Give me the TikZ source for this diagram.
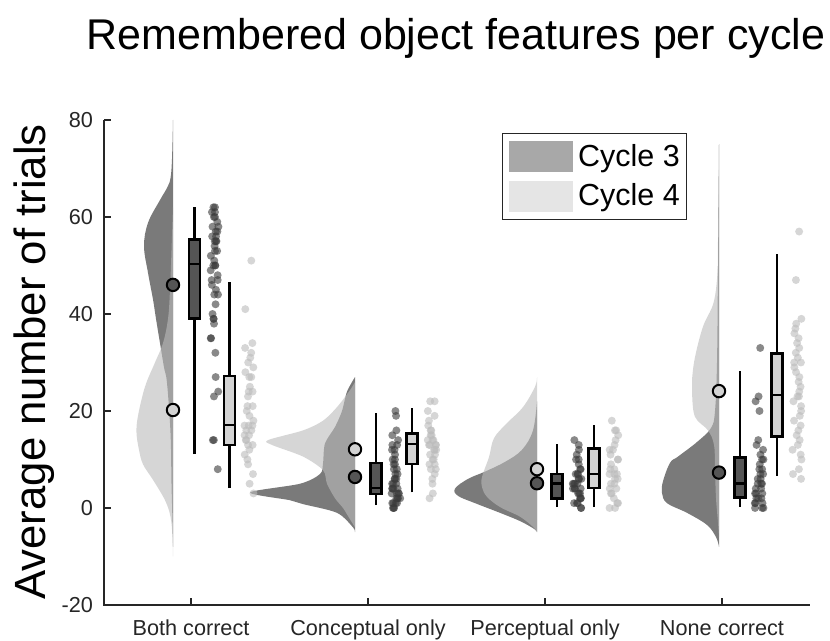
\documentclass[tikz,border=0pt]{standalone}
\usepackage{fontspec}
\setmainfont{Liberation Sans}
\definecolor{axisgray}{HTML}{262626}
\definecolor{vdark}{HTML}{7A7A7A}
\definecolor{vlight}{HTML}{BBBBBB}
\definecolor{bdark}{HTML}{555555}
\definecolor{blight}{HTML}{D3D3D3}
\definecolor{ddark}{HTML}{3A3A3A}
\definecolor{dlight}{HTML}{BBBBBB}
\definecolor{legdark}{HTML}{A8A8A8}
\definecolor{leglight}{HTML}{E5E5E5}

% jittered raw data points: centre x, style, values
\newcommand{\rainrow}[3]{%
  \foreach \v in {#3}{%
    \pgfmathsetmacro{\jx}{#1+4.5*rand}%
    \fill[#2] (\jx,\v) circle[radius=3.4pt];
  }}
% box with whiskers: x, low, q1, median, q3, high, fill
\newcommand{\rainbox}[7]{%
  \draw[boxline] (#1,#2) -- (#1,#3) (#1,#5) -- (#1,#6);
  \filldraw[boxline, fill=#7] (#1-5.5,#3) rectangle (#1+5.5,#5);
  \draw[boxline] (#1-5.5,#4) -- (#1+5.5,#4);}

\begin{document}
\begin{tikzpicture}[x=0.03cm,y=0.03cm,
    axisline/.style={draw=axisgray, line width=1.6pt},
    ticklabel/.style={font=\fontsize{18.5}{20}\selectfont, text=axisgray},
    boxline/.style={draw=black, line width=2.3pt},
    c3violin/.style={fill=vdark},
    c4violin/.style={fill=vlight, fill opacity=0.6},
    c3dot/.style={fill=ddark, fill opacity=0.6},
    c4dot/.style={fill=dlight, fill opacity=0.6},
    meanmark/.style={draw=black, line width=1.7pt}]
\useasboundingbox (0,0) rectangle (830,641);

\node[anchor=base, font=\fontsize{36.7}{40}\selectfont] (title) at (456,591) {Remembered object features per cycle};
\node[rotate=90, anchor=base, font=\fontsize{37.3}{40}\selectfont] (ylabel) at (45,279) {Average number of trials};

\begin{scope}[yshift=3.99cm, y=0.1455cm]
    % axes
    \draw[axisline] (104,80) -- (104,-20) -- (810,-20);
    \foreach \t in {-20,0,...,80}
        {
            \draw[axisline] (104,\t) -- ++(7,0);
            \node[ticklabel, anchor=east] (ytick\t) at (97,\t) {\t};
        }
    \foreach \xc/\lab [count=\i] in {191/Both correct, 368/Conceptual only, 545/Perceptual only, 722/None correct}
        {
            \draw[axisline] (\xc,-20) -- ++(0,1.45);
            \node[ticklabel, anchor=base] (xtick\i) at (\xc,-26.2) {\lab};
        }

    % half violins, cycle 3 then cycle 4
    \fill[c3violin] plot[smooth, tension=0.6] coordinates {(173,80) (172,72) (170.5,68) (167,66) (160,63.5) (148,58.8) (144,54) (148,48.5) (153,43) (156,39) (160,34) (164,29) (167,25.8) (170.5,15.5) (171.5,5) (172.5,-3) (173,-8)} -- cycle;
    \fill[c4violin] plot[smooth, tension=0.6] coordinates {(173,62) (172,56) (170,45) (168,39) (163,34) (155,30) (145,25) (138,19) (136.5,15.5) (139,12) (143,9) (153,5.8) (165,1.6) (170.5,-1.8) (172.5,-6) (173,-10)} -- cycle;

    \fill[c3violin] plot[smooth, tension=0.5] coordinates {(355,27) (347,24) (342,20) (335,16.7) (325,13.3) (323,9.2) (320,7) (300,5) (250,3.2) (290,1.6) (303,0.8) (337,-1) (353,-4) (355,-5)} -- cycle;
    \fill[c4violin] plot[smooth, tension=0.5] coordinates {(355,26) (350,24.3) (337,20.8) (323,18) (303,16) (268,14) (272,13) (303,10.6) (323,7.8) (327,5) (335,2) (343,0) (349,-2) (355,-4)} -- cycle;

    \fill[c3violin] plot[smooth, tension=0.6] coordinates {(537,22) (533,16) (522,12) (505,9.5) (485,7.5) (468,6) (455,4) (458,2.5) (475,1) (500,-1) (520,-2.7) (534,-4.3) (537,-5)} -- cycle;
    \fill[c4violin] plot[smooth, tension=0.6] coordinates {(537,27) (535,25) (523,20.8) (507,17.5) (494,14.4) (489,10.5) (482,6.4) (482,4.3) (487,2.3) (500,0.2) (520,-1.8) (533,-3.9) (537,-5)} -- cycle;

    \fill[c3violin] plot[smooth, tension=0.6] coordinates {(719,75) (718,50) (717,30) (715,20) (711,16.5) (697,13.6) (678,10.6) (670,9.3) (663,5.5) (662,3.1) (667,1) (687,-1) (707,-3.5) (716,-6) (719,-8)} -- cycle;
    \fill[c4violin] plot[smooth, tension=0.6] coordinates {(719,75) (718,55) (717.5,48.5) (713.5,42.3) (703,37.4) (695,31.1) (692,26.4) (692,23.7) (695,18.8) (708,16) (714,13) (715,8) (716,2) (718,-3) (719,-6)} -- cycle;

    % means
    \filldraw[meanmark, fill=bdark] (173,46) circle[radius=5.3pt];
    \filldraw[meanmark, fill=blight] (173,20.2) circle[radius=5.3pt];
    \filldraw[meanmark, fill=blight] (355,12.1) circle[radius=5.3pt];
    \filldraw[meanmark, fill=bdark] (355,6.4) circle[radius=5.3pt];
    \filldraw[meanmark, fill=blight] (537,8) circle[radius=5.3pt];
    \filldraw[meanmark, fill=bdark] (537,5.1) circle[radius=5.3pt];
    \filldraw[meanmark, fill=blight] (719,24.1) circle[radius=5.3pt];
    \filldraw[meanmark, fill=bdark] (719,7.3) circle[radius=5.3pt];

    % boxes
    \rainbox{194.5}{11.1}{39}{50.3}{55.3}{62.1}{bdark}
    \rainbox{229.5}{4.1}{13}{17.1}{27.2}{46.5}{blight}
    \rainbox{376}{0.6}{2.9}{4.1}{9.3}{19.6}{bdark}
    \rainbox{412}{3.2}{9.1}{13.2}{15.3}{20.6}{blight}
    \rainbox{557}{0.2}{2}{5.1}{7}{13.2}{bdark}
    \rainbox{594}{0.2}{4.1}{7}{12.2}{17.1}{blight}
    \rainbox{740}{0.3}{2.1}{5.1}{10.4}{28.2}{bdark}
    \rainbox{777}{6.6}{14.8}{23.3}{31.8}{52.4}{blight}

    % raw data
    \pgfmathsetseed{7}
    \rainrow{214}{c3dot}{62,62,61,61,60,60,59,58,58,57,57,56,56,55,55,55,54,53,53,52,51,50,50,50,49,48,47,47,46,45,44,44,42,40,39,39,38,35,35,32,27,24,23,14,14,8}
    \rainrow{249}{c4dot}{51,41,34,33,32,31,30,29,28,27,27,25,24,24,23,21,21,20,19,18,17,17,17,16,16,15,15,14,14,13,13,12,11,10,9,7,5,3}
    \rainrow{396}{c3dot}{20,19,16,15,14,13,13,12,12,11,10,10,9,9,8,8,7,7,6,6,6,5,5,5,4,4,4,4,3,3,3,3,2,2,2,2,1,1,1,1,0,0,0}
    \rainrow{432}{c4dot}{22,22,20,19,18,17,16,16,15,15,14,14,14,13,13,13,13,12,12,12,11,11,10,10,9,9,8,8,7,6,5,3,2}
    \rainrow{577}{c3dot}{14,13,12,11,10,10,9,8,8,7,7,7,6,6,6,5,5,5,5,4,4,4,4,3,3,3,2,2,2,1,1,1,0,0}
    \rainrow{614}{c4dot}{18,16,16,15,14,13,12,12,11,10,10,9,8,8,7,7,7,6,6,5,5,4,4,3,3,2,1,1,0,0}
    \rainrow{759}{c3dot}{33,23,22,20,14,13,12,11,10,10,9,8,8,7,7,6,6,5,5,5,4,4,3,3,3,2,2,2,1,1,1,0,0,0}
    \rainrow{797}{c4dot}{57,47,39,38,37,36,35,34,33,32,31,30,30,29,28,27,26,25,24,23,23,22,21,20,19,18,17,16,15,14,13,12,11,10,8,7,6}
\end{scope}

% legend
\filldraw[draw=axisgray, line width=0.8pt, fill=white] (502,422) rectangle (686,508);
\fill[legdark] (509,469) rectangle (573,500);
\fill[leglight] (509,429) rectangle (573,460);
\node[anchor=base west, inner sep=0pt, font=\fontsize{26}{28}\selectfont] (leg3) at (578,474) {Cycle 3};
\node[anchor=base west, inner sep=0pt, font=\fontsize{26}{28}\selectfont] (leg4) at (578,435.5) {Cycle 4};
\end{tikzpicture}
\end{document}
